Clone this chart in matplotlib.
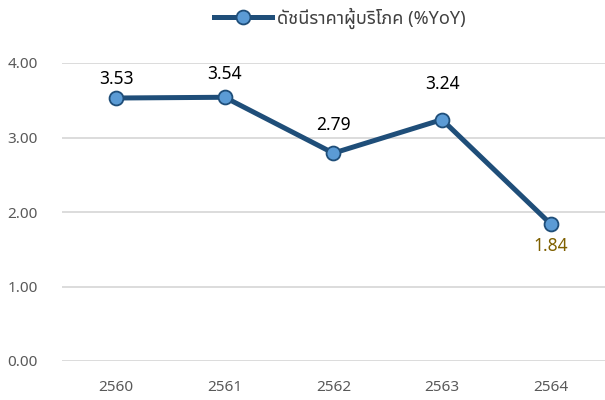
import matplotlib
matplotlib.use("Agg")
import matplotlib.pyplot as plt

plt.rcParams['font.family'] = ['Noto Sans Thai UI', 'Noto Sans Thai', 'DejaVu Sans']

years = ["2560", "2561", "2562", "2563", "2564"]
cpi = [3.53, 3.54, 2.79, 3.24, 1.84]
series_name = "ดัชนีราคาผู้บริโภค (%YoY)"

# label placement (pixels from the point), as in the original chart
label_dy = [19, 23, 28, 36, -22]
label_colors = ["black", "black", "black", "black", "#7F6000"]

fig = plt.figure(figsize=(6.05, 4), dpi=100)
ax = fig.add_axes([0.102, 0.0975, 0.898, 0.745])

x = range(len(years))
line, = ax.plot(x, cpi, color="#1F4E79", lw=3.6, marker="o", ms=10,
                mfc="#5B9BD5", mec="#1F4E79", mew=1.3, label=series_name,
                solid_joinstyle="round", zorder=3)

for i, v in enumerate(cpi):
    ax.annotate(f"{v:.2f}", (i, v), xytext=(0, label_dy[i]), textcoords="offset pixels",
                ha="center", va="center", fontsize=12.5, color=label_colors[i])

ax.set_xlim(-0.5, len(years) - 0.5)
ax.set_ylim(0, 4)
ax.set_xticks(list(x))
ax.set_xticklabels(years)
ax.set_yticks([0, 1, 2, 3, 4])
ax.set_yticklabels([f"{t:.2f}" for t in [0, 1, 2, 3, 4]])
ax.tick_params(length=0, labelsize=11, labelcolor="#595959")
ax.tick_params(axis="x", pad=14)
ax.tick_params(axis="y", pad=17)
for s in ax.spines.values():
    s.set_visible(False)
ax.grid(axis="y", color="#D9D9D9", lw=1.3)
ax.set_axisbelow(True)

fig.legend(handles=[line], loc="center", bbox_to_anchor=(0.562, 0.955),
           frameon=False, fontsize=13, handlelength=3.2, handletextpad=0.3,
           labelcolor="#404040")

fig.savefig("out.png")
